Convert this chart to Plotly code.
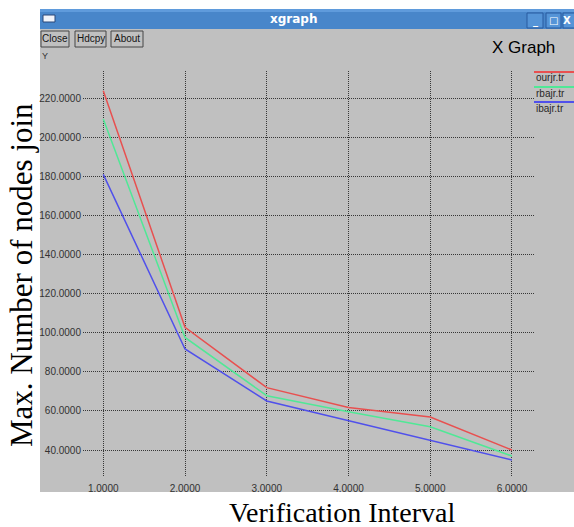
import plotly.graph_objects as go

W, H = 574, 527

x_vals = [1, 2, 3, 4, 5, 6]
ourjr = [223.8, 102.8, 71.9, 61.8, 56.9, 40.0]
rbajr = [209.3, 97.6, 67.8, 59.6, 51.9, 36.9]
ibajr = [181.0, 91.7, 65.1, 55.0, 44.8, 34.9]
series_names = ["ourjr.tr", "rbajr.tr", "ibajr.tr"]
series_colors = ["rgb(232,80,80)", "rgb(80,232,150)", "rgb(80,80,235)"]
x_ticks = [1, 2, 3, 4, 5, 6]
y_ticks = [40, 60, 80, 100, 120, 140, 160, 180, 200, 220]


def px(x):
    return x / W


def py(y):
    return 1 - y / H


def ann(text, x, y, size, color="black", family="Liberation Sans", xanchor="center", angle=0):
    return dict(text=text, x=px(x), y=py(y), xref="paper", yref="paper", showarrow=False,
                xanchor=xanchor, yanchor="middle", textangle=angle,
                font=dict(family=family, size=size, color=color))


def rect(x0, y0, x1, y1, fill, line_color=None, lw=0, layer="above"):
    return dict(type="rect", xref="paper", yref="paper", x0=px(x0), x1=px(x1), y0=py(y1), y1=py(y0),
                fillcolor=fill, line=dict(color=line_color or fill, width=lw), layer=layer)


fig = go.Figure()
for name, vals, col in zip(series_names, [ourjr, rbajr, ibajr], series_colors):
    fig.add_trace(go.Scatter(x=x_vals, y=vals, mode="lines", name=name,
                             line=dict(color=col, width=1.5), showlegend=False))

shapes = []
annotations = []
# window body
shapes.append(rect(40, 29, 574, 492, "rgb(192,192,192)", layer="below"))
# title bar
shapes.append(rect(40, 9, 574, 29, "rgb(72,134,202)", layer="below"))
shapes.append(rect(40, 9, 574, 12, "rgb(95,155,220)", layer="below"))
# window icon
shapes.append(rect(43, 15, 55, 22, "rgb(240,243,250)", "rgb(40,70,120)", 1))
annotations.append(ann("<b>xgraph</b>", 293, 19, 12, "white", "DejaVu Sans"))
# window control buttons
for (bx0, bx1, tx, sym) in [(527, 543, 535, "_"), (546, 561, 553.5, "□"), (563, 580, 567, "X")]:
    shapes.append(rect(bx0, 13, bx1, 28, "rgb(85,148,215)", "rgb(40,90,160)", 1))
    annotations.append(ann("<b>%s</b>" % sym, tx, 20.5, 10, "white", "DejaVu Sans"))
# app buttons
for (bx0, bx1, lab) in [(41, 69, "Close"), (75, 106, "Hdcpy"), (111, 143, "About")]:
    shapes.append(rect(bx0, 31, bx1, 47, "rgb(192,192,192)", "rgb(70,70,70)", 1))
    annotations.append(ann(lab, (bx0 + bx1) / 2, 39, 10, "rgb(20,20,20)"))
annotations.append(ann("X Graph", 523, 48, 17))
annotations.append(ann("Y", 45, 56, 9, "rgb(50,50,50)"))
# legend
for i, (name, col) in enumerate(zip(series_names, series_colors)):
    ly = 72 + 15 * i
    shapes.append(dict(type="line", xref="paper", yref="paper", x0=px(534), x1=px(574), y0=py(ly), y1=py(ly),
                       line=dict(color=col, width=2)))
    annotations.append(ann(name, 534, ly + 6, 10, "rgb(40,40,40)", xanchor="left"))
# axis titles
annotations.append(ann("Max. Number of nodes join", 21, 275, 31, family="Liberation Serif", angle=-90))
annotations.append(ann("Verification Interval", 342, 512, 28, family="Liberation Serif"))

grid_color = "rgb(55,55,55)"
fig.update_layout(
    width=W, height=H,
    margin=dict(l=0, r=0, t=0, b=0, autoexpand=False),
    paper_bgcolor="white",
    plot_bgcolor="rgb(192,192,192)",
    shapes=shapes,
    annotations=annotations,
    xaxis=dict(domain=[px(83), px(534)], range=[0.752, 6.27], tickvals=x_ticks, automargin=False,
               ticktext=["%.4f" % v for v in x_ticks], showgrid=True, gridcolor=grid_color,
               griddash="1px,1px", gridwidth=1, zeroline=False, showline=False, ticks="",
               tickfont=dict(family="Liberation Sans", size=10, color="rgb(50,50,50)"), ticklabelstandoff=4),
    yaxis=dict(domain=[py(477), py(71)], range=[26.2, 233.9], tickvals=y_ticks, automargin=False,
               ticktext=["%.4f" % v for v in y_ticks], showgrid=True, gridcolor=grid_color,
               griddash="1px,1px", gridwidth=1, zeroline=False, showline=False, ticks="",
               tickfont=dict(family="Liberation Sans", size=10, color="rgb(50,50,50)"), ticklabelstandoff=1),
)

fig.write_html("out.html", config={"displayModeBar": False},
               post_script="document.body.style.margin='0';")
